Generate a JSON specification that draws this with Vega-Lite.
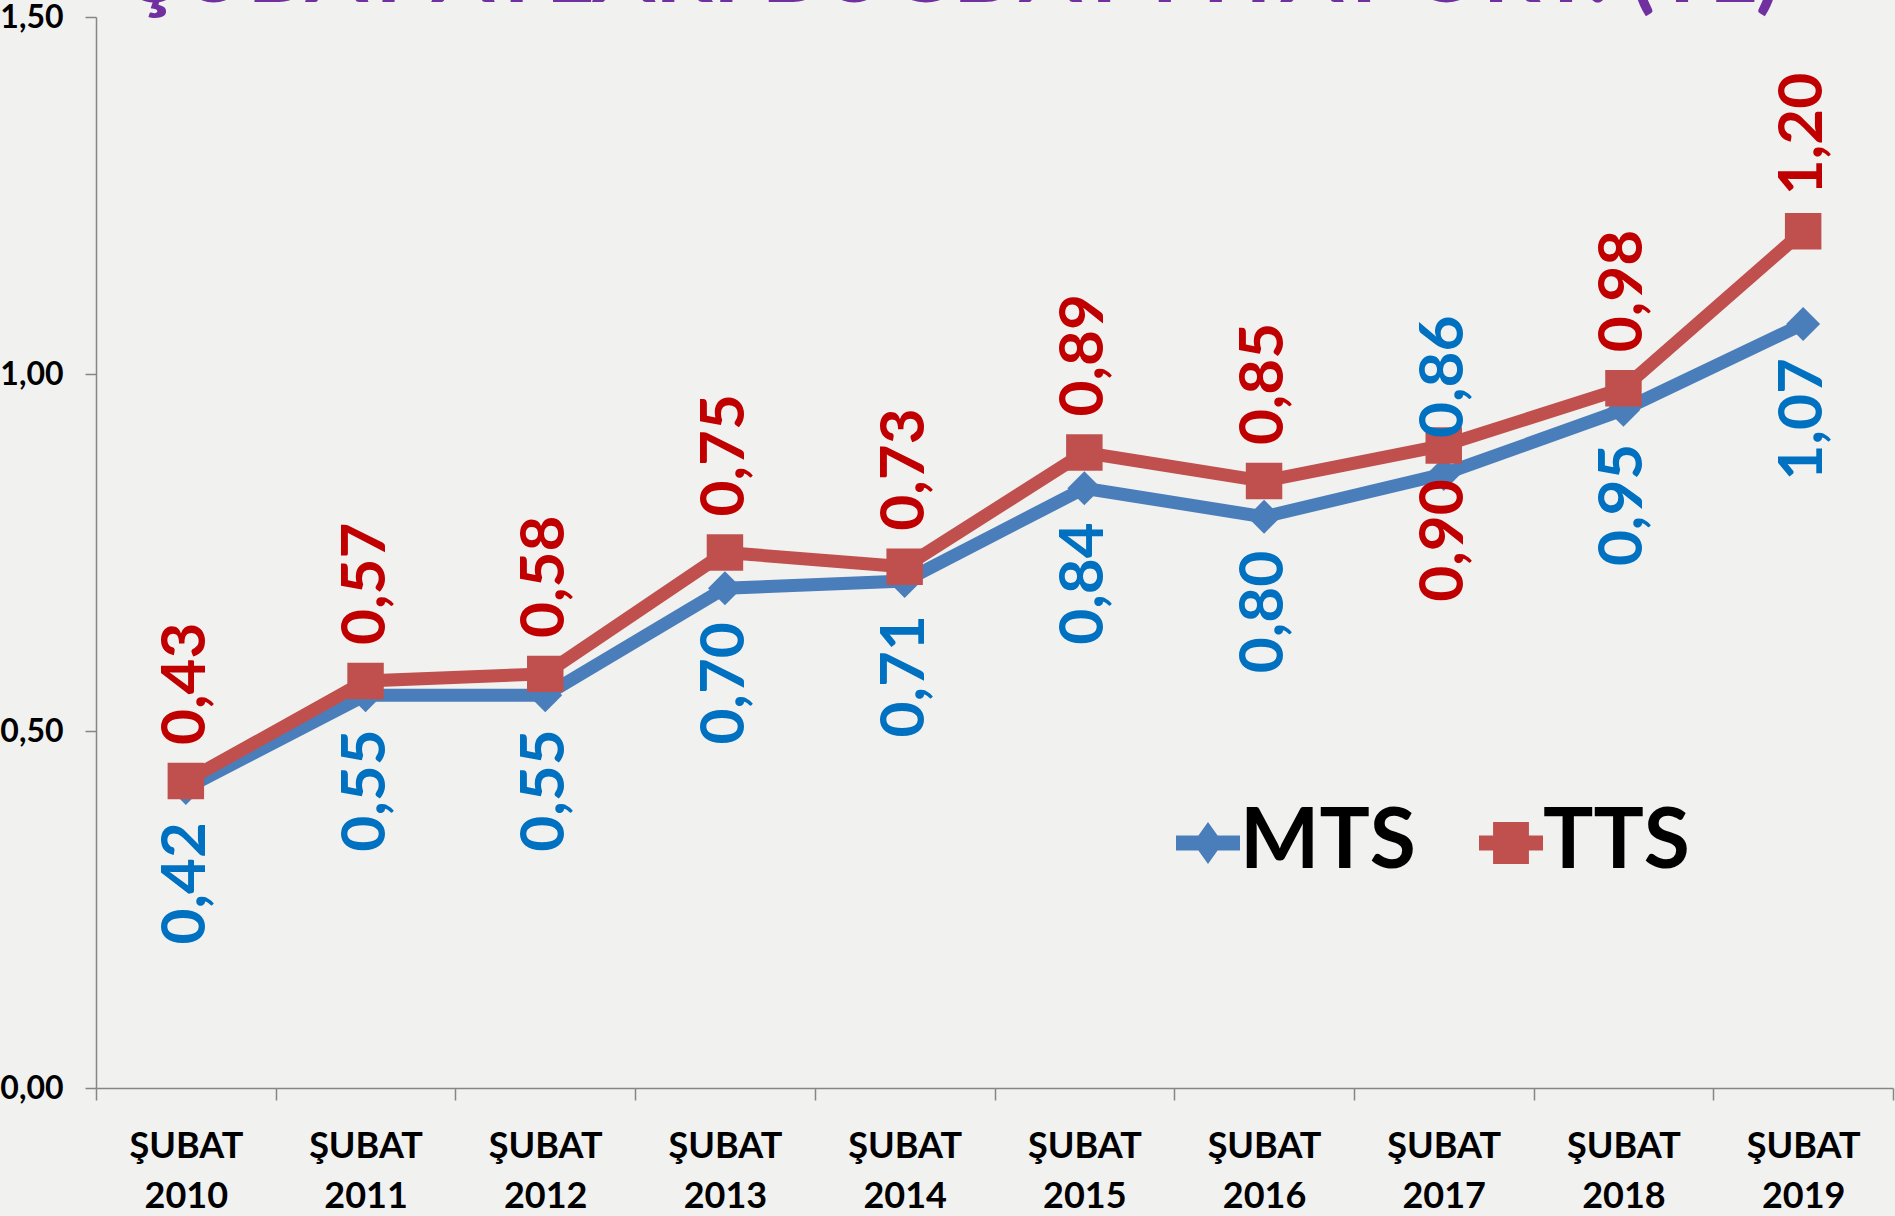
{
  "$schema": "https://vega.github.io/schema/vega-lite/v6.json",
  "width": 1797,
  "height": 1071,
  "autosize": {"type": "none"},
  "padding": {"left": 96, "top": 17, "right": 2, "bottom": 128},
  "background": "#f1f1f0",
  "config": {
    "view": {"stroke": null},
    "locale": {"number": {"decimal": ",", "thousands": ".", "grouping": [3], "currency": ["", " TL"]}}
  },
  "title": {
    "text": "ŞUBAT AYLARI BUĞDAY FİYAT ORT. (TL)",
    "anchor": "start",
    "frame": "group",
    "baseline": "alphabetic",
    "offset": -25,
    "dx": 35,
    "dy": 66,
    "font": "Lato",
    "fontSize": 90,
    "fontWeight": "bold",
    "color": "#7030A0"
  },
  "data": {
    "values": [
      {"year": "2010", "series": "MTS", "value": 0.42, "side": "below"},
      {"year": "2011", "series": "MTS", "value": 0.55, "side": "below"},
      {"year": "2012", "series": "MTS", "value": 0.55, "side": "below"},
      {"year": "2013", "series": "MTS", "value": 0.70, "side": "below"},
      {"year": "2014", "series": "MTS", "value": 0.71, "side": "below"},
      {"year": "2015", "series": "MTS", "value": 0.84, "side": "below"},
      {"year": "2016", "series": "MTS", "value": 0.80, "side": "below"},
      {"year": "2017", "series": "MTS", "value": 0.86, "side": "above"},
      {"year": "2018", "series": "MTS", "value": 0.95, "side": "below"},
      {"year": "2019", "series": "MTS", "value": 1.07, "side": "below"},
      {"year": "2010", "series": "TTS", "value": 0.43, "side": "above"},
      {"year": "2011", "series": "TTS", "value": 0.57, "side": "above"},
      {"year": "2012", "series": "TTS", "value": 0.58, "side": "above"},
      {"year": "2013", "series": "TTS", "value": 0.75, "side": "above"},
      {"year": "2014", "series": "TTS", "value": 0.73, "side": "above"},
      {"year": "2015", "series": "TTS", "value": 0.89, "side": "above"},
      {"year": "2016", "series": "TTS", "value": 0.85, "side": "above"},
      {"year": "2017", "series": "TTS", "value": 0.90, "side": "below"},
      {"year": "2018", "series": "TTS", "value": 0.98, "side": "above"},
      {"year": "2019", "series": "TTS", "value": 1.20, "side": "above"}
    ]
  },
  "encoding": {
    "x": {
      "field": "year",
      "type": "nominal",
      "sort": null,
      "scale": {"type": "band", "paddingInner": 0, "paddingOuter": 0},
      "axis": {
        "title": null,
        "labelExpr": "datum.label ? ['ŞUBAT', datum.label] : ''",
        "labelAngle": 0,
        "labelFont": "Lato",
        "labelFontSize": 36,
        "labelFontWeight": "bold",
        "labelColor": "#000000",
        "labelLineHeight": 50,
        "labelBaseline": "alphabetic",
        "labelPadding": 57,
        "tickBand": "extent",
        "tickSize": 12,
        "tickColor": "#868686",
        "tickWidth": 1.5,
        "domainColor": "#868686",
        "domainWidth": 1.5,
        "grid": false
      }
    },
    "y": {
      "field": "value",
      "type": "quantitative",
      "scale": {"domain": [0, 1.5], "nice": false},
      "axis": {
        "title": null,
        "values": [0, 0.5, 1, 1.5],
        "format": ".2f",
        "labelFont": "Lato",
        "labelFontSize": 32,
        "labelFontWeight": "bold",
        "labelColor": "#000000",
        "labelPadding": 22,
        "labelFlush": false,
        "tickSize": 11,
        "tickColor": "#868686",
        "tickWidth": 1.5,
        "domainColor": "#868686",
        "domainWidth": 1.5,
        "grid": false
      }
    }
  },
  "layer": [
    {
      "mark": {"type": "line", "strokeWidth": 13},
      "encoding": {
        "color": {
          "field": "series",
          "type": "nominal",
          "scale": {"domain": ["MTS", "TTS"], "range": ["#4A7EBB", "#C0504D"]},
          "legend": {
            "orient": "none",
            "legendX": 1070,
            "legendY": 784,
            "direction": "horizontal",
            "title": null,
            "labelFont": "Lato",
            "labelFontSize": 84,
            "labelFontWeight": "bold",
            "labelColor": "#000000",
            "labelLimit": 500,
            "symbolSize": 4096,
            "symbolStrokeWidth": 0,
            "columnPadding": 53,
            "labelOffset": -10,
            "encode": {
              "symbols": {
                "update": {
                  "shape": {"signal": "datum.value === 'MTS' ? 'M-1,-0.234L-0.3,-0.234L0,-0.66L0.3,-0.234L1,-0.234L1,0.234L0.3,0.234L0,0.66L-0.3,0.234L-1,0.234Z' : 'M-1,-0.234L-0.56,-0.234L-0.56,-0.66L0.56,-0.66L0.56,-0.234L1,-0.234L1,0.234L0.56,0.234L0.56,0.66L-0.56,0.66L-0.56,0.234L-1,0.234Z'"},
                  "size": {"value": 4096},
                  "fill": {"scale": "color", "field": "value"},
                  "stroke": {"value": "transparent"},
                  "strokeWidth": {"value": 0},
                  "opacity": {"value": 1}
                }
              }
            }
          }
        }
      }
    },
    {
      "transform": [{"filter": "datum.series === 'MTS'"}],
      "mark": {"type": "point", "shape": "diamond", "filled": true, "opacity": 1, "size": 1150, "color": "#4A7EBB"}
    },
    {
      "transform": [{"filter": "datum.series === 'TTS'"}],
      "mark": {"type": "point", "shape": "square", "filled": true, "opacity": 1, "size": 1330, "color": "#C0504D"}
    },
    {
      "transform": [{"filter": "datum.side === 'above'"}],
      "mark": {"type": "text", "angle": 270, "align": "left", "baseline": "middle", "dx": 36, "font": "Lato", "fontSize": 62, "fontWeight": "bold"},
      "encoding": {
        "text": {"field": "value", "type": "quantitative", "format": ".2f"},
        "color": {"condition": {"test": "datum.series === 'MTS'", "value": "#0070C0"}, "value": "#C00000"}
      }
    },
    {
      "transform": [{"filter": "datum.side === 'below'"}],
      "mark": {"type": "text", "angle": 270, "align": "right", "baseline": "middle", "dx": -34, "font": "Lato", "fontSize": 62, "fontWeight": "bold"},
      "encoding": {
        "text": {"field": "value", "type": "quantitative", "format": ".2f"},
        "color": {"condition": {"test": "datum.series === 'MTS'", "value": "#0070C0"}, "value": "#C00000"}
      }
    }
  ]
}
